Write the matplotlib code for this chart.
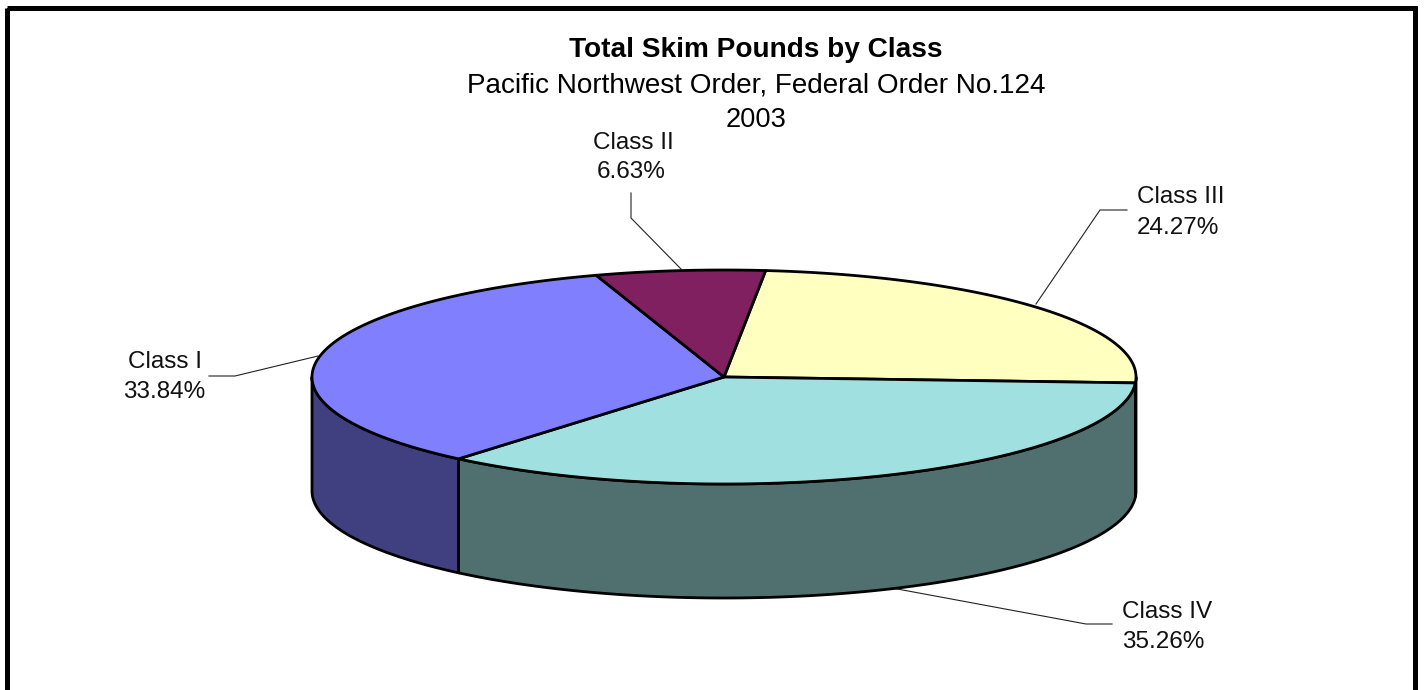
import numpy as np
import matplotlib
matplotlib.use("Agg")
import matplotlib.pyplot as plt
from matplotlib.patches import Polygon, Rectangle

plt.rcParams['font.family'] = ['Liberation Sans', 'DejaVu Sans']

categories = ["Class III", "Class IV", "Class I", "Class II"]
values = [24.27, 35.26, 33.84, 6.63]
top_colors = ["#FFFFC0", "#A0E0E0", "#8080FF", "#802060"]
wall_colors = ["#808060", "#507070", "#404080", "#401030"]
title_lines = ["Total Skim Pounds by Class", "Pacific Northwest Order, Federal Order No.124", "2003"]

W, H = 1424, 690
CX, CY, RX, RY, DEPTH = 724, 377, 412, 107, 114
START = 5.8
LW = 2.0

fig = plt.figure(figsize=(W / 100, H / 100), dpi=100, facecolor="white")
ax = fig.add_axes([0, 0, 1, 1])
ax.set_xlim(0, W)
ax.set_ylim(H, 0)
ax.axis("off")


def pts(a0, a1, dy=0.0):
    a = np.radians(np.linspace(a0, a1, max(int(abs(a1 - a0) * 4), 2)))
    return np.column_stack([CX + RX * np.sin(a), CY - RY * np.cos(a) + dy])


# Outer frame (runs off the bottom of the image)
ax.add_patch(Rectangle((6.5, 8), 1408, 720, fill=False, ec="black", lw=3.6, zorder=1))

edges = np.concatenate([[0], np.cumsum(values)]) * 3.6 + START

# Side walls
for i in range(len(values)):
    a0, a1 = max(edges[i], 90), min(edges[i + 1], 270)
    if a1 > a0:
        top = pts(a0, a1)
        bot = pts(a0, a1, DEPTH)
        ax.add_patch(Polygon(np.vstack([top, bot[::-1]]), closed=True, fc=wall_colors[i],
                             ec="black", lw=LW, joinstyle="round", zorder=2))

# Top faces
for i in range(len(values)):
    arc = pts(edges[i], edges[i + 1])
    ax.add_patch(Polygon(np.vstack([[CX, CY], arc]), closed=True, fc=top_colors[i],
                         ec="black", lw=LW, joinstyle="round", zorder=3))

# Titles
ax.text(756, 50, title_lines[0], ha="center", va="center", fontsize=20.2, fontweight="bold", color="black")
ax.text(756, 86, title_lines[1], ha="center", va="center", fontsize=20.1, color="black")
ax.text(756, 120, title_lines[2], ha="center", va="center", fontsize=19.6, color="black")

# Data labels
label_pos = {
    "Class II": (633, 143, 631, 172),
    "Class III": (1181, 197, 1178, 228),
    "Class I": (165, 362, 164, 392),
    "Class IV": (1167, 612, 1163, 642),
}
for name, val in zip(categories, values):
    x1, y1, x2, y2 = label_pos[name]
    ax.text(x1, y1, name, ha="center", va="center", fontsize=17.5, color="#111111")
    ax.text(x2, y2, f"{val:.2f}%", ha="center", va="center", fontsize=17.5, color="#111111")

# Leader lines
leaders = [
    ([631, 631, 681], [193, 218, 269]),
    ([1127, 1100, 1036], [210, 210, 304]),
    ([209, 235, 318], [376, 376, 356]),
    ([1112, 1086, 892], [624, 624, 588]),
]
for xs, ys in leaders:
    ax.plot(xs, ys, color="#222222", lw=0.8, zorder=1.5)

fig.savefig("out.png", dpi=100, facecolor="white")
